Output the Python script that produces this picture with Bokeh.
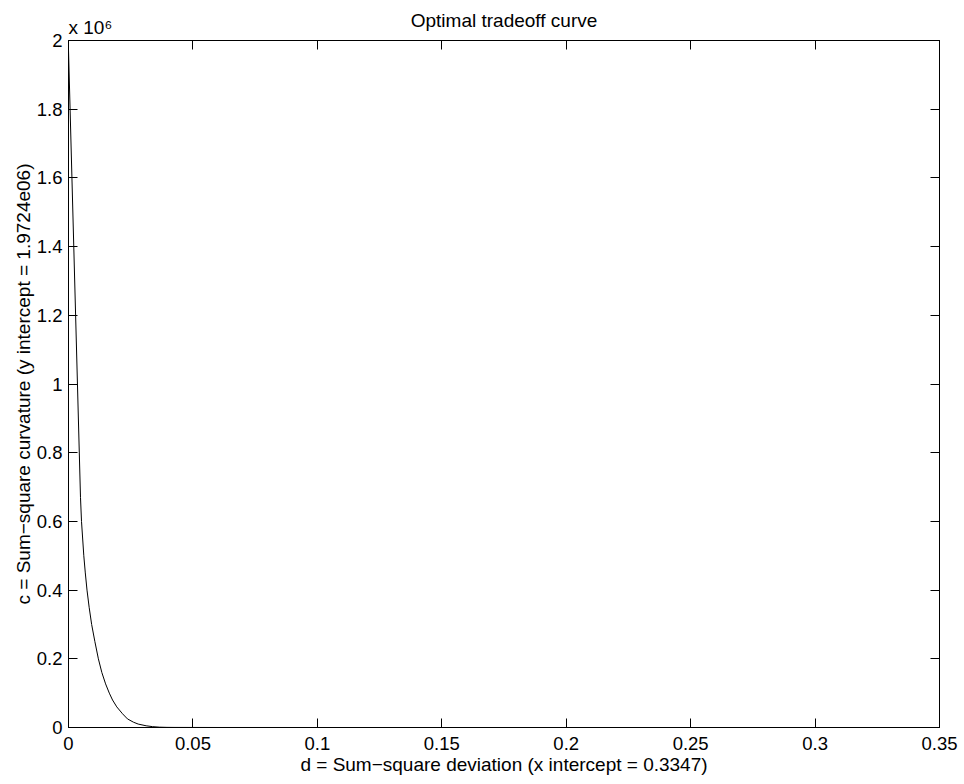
from bokeh.plotting import figure
from bokeh.models import (FixedTicker, CustomJSTickFormatter, LinearAxis, Title, Range1d)
from bokeh.embed import file_html
from bokeh.resources import INLINE

# ---- data ----
deviation = [0.0, 0.00482, 0.00523, 0.00615, 0.00675, 0.00744, 0.0083, 0.0093,
             0.0106, 0.0120, 0.0134, 0.0149, 0.0164, 0.0177, 0.0194, 0.0217,
             0.0237, 0.0261, 0.0280, 0.0312, 0.0338, 0.0365, 0.0395, 0.0428,
             0.06, 0.1, 0.2, 0.3347]
curvature = [1.9724e6, 0.670e6, 0.600e6, 0.500e6, 0.450e6, 0.400e6, 0.350e6, 0.300e6,
             0.250e6, 0.200e6, 0.160e6, 0.127e6, 0.100e6, 0.080e6, 0.060e6, 0.040e6,
             0.025e6, 0.0155e6, 0.010e6, 0.005e6, 0.0025e6, 0.001e6, 0.0004e6, 0.0002e6,
             0.00003e6, 0.0, 0.0, 0.0]

x_ticks = [0, 0.05, 0.1, 0.15, 0.2, 0.25, 0.3, 0.35]
y_ticks = [0, 2e5, 4e5, 6e5, 8e5, 1e6, 1.2e6, 1.4e6, 1.6e6, 1.8e6, 2e6]

title_text = "Optimal tradeoff curve"
scale_text = "x 10\u2076"
x_label = "d = Sum\u2212square deviation (x intercept = 0.3347)"
y_label = "c = Sum\u2212square curvature (y intercept = 1.9724e06)"

FONT = "Liberation Sans"
FS = "19px"
TFS = "18.5px"

p = figure(width=964, height=784, output_backend="svg", toolbar_location=None,
           x_range=Range1d(0, 0.35), y_range=Range1d(0, 2e6),
           min_border_left=68, min_border_right=25, min_border_top=40, min_border_bottom=57,
           title=title_text)
p.background_fill_color = "white"
p.border_fill_color = "white"
p.outline_line_color = "black"
p.outline_line_width = 1
p.grid.visible = False

p.line(deviation, curvature, line_color="black", line_width=1)

xfmt = CustomJSTickFormatter(code="return parseFloat(tick.toFixed(6)).toString();")
yfmt = CustomJSTickFormatter(code="return parseFloat((tick/1e6).toFixed(6)).toString();")
blank = CustomJSTickFormatter(code="return '';")

def style(ax):
    ax.major_tick_in = 9
    ax.major_tick_out = 0
    ax.minor_tick_line_color = None
    ax.axis_line_color = "black"
    ax.major_tick_line_color = "black"
    ax.major_label_text_font = FONT
    ax.major_label_text_font_size = TFS
    ax.major_label_text_color = "black"
    ax.axis_label_text_font = FONT
    ax.axis_label_text_font_size = FS
    ax.axis_label_text_font_style = "normal"
    ax.axis_label_text_color = "black"

xa = p.xaxis[0]
ya = p.yaxis[0]
xa.ticker = FixedTicker(ticks=x_ticks)
ya.ticker = FixedTicker(ticks=y_ticks)
xa.formatter = xfmt
ya.formatter = yfmt
xa.axis_label = x_label
ya.axis_label = y_label
style(xa)
style(ya)
xa.major_label_standoff = 9
xa.axis_label_standoff = 1
ya.major_label_standoff = 6
ya.axis_label_standoff = 0
ya.major_label_orientation = "horizontal"

top = LinearAxis(ticker=FixedTicker(ticks=x_ticks), formatter=blank)
right = LinearAxis(ticker=FixedTicker(ticks=y_ticks), formatter=blank)
for ax in (top, right):
    style(ax)
    ax.major_label_standoff = 0
    ax.major_label_text_font_size = "1px"
p.add_layout(top, "above")
p.add_layout(right, "right")

# scale factor note, just above the top-left corner of the frame
p.add_layout(Title(text=scale_text, align="left", text_font=FONT, text_font_size=FS,
                   text_font_style="normal", text_color="black", standoff=5), "above")

p.title.align = "center"
p.title.text_font = FONT
p.title.text_font_size = FS
p.title.text_font_style = "normal"
p.title.text_color = "black"
p.title.standoff = -36

open("out.html", "w").write(file_html(p, INLINE))
